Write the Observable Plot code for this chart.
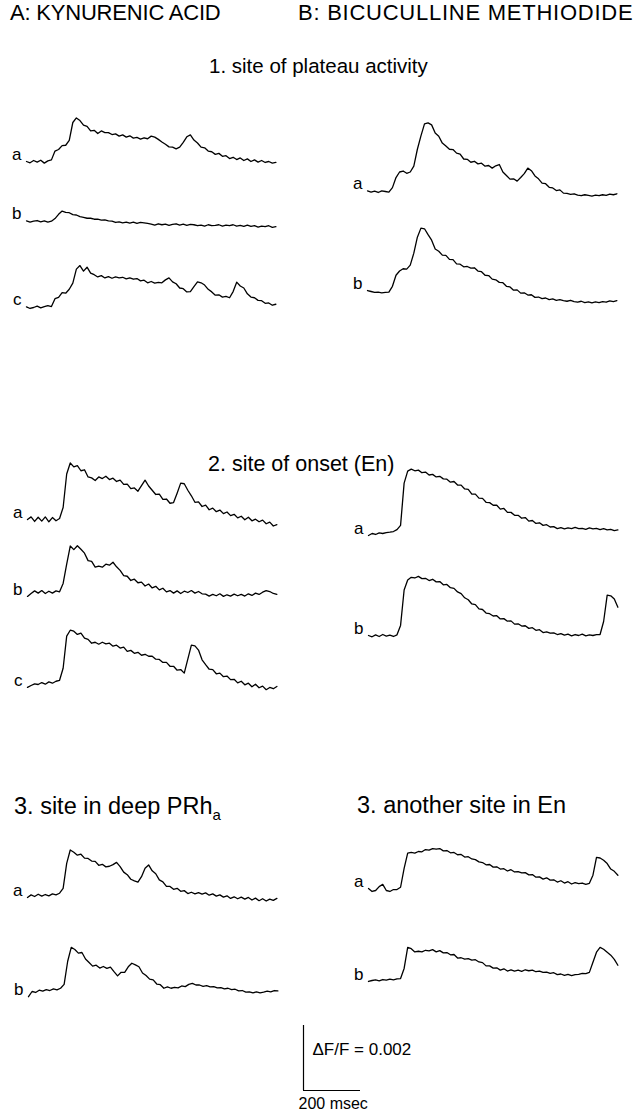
<!DOCTYPE html>
<html>
<head>
<meta charset="utf-8">
<script src="https://cdn.jsdelivr.net/npm/d3@7"></script>
<script src="https://cdn.jsdelivr.net/npm/@observablehq/plot@0.6"></script>
<style>
  html, body { margin: 0; padding: 0; background: #fff; }
  #fig { position: relative; width: 634px; height: 1115px; overflow: hidden; background: #fff;
         font-family: "Liberation Sans", Arial, sans-serif; color: #000; }
  .t { position: absolute; white-space: nowrap; line-height: 1; }
  .p { position: absolute; }
</style>
</head>
<body>
<div id="fig"></div>
<script>
// ---------- DATA (ΔF/F in units of 1e-4; one sample every 12.5 ms) ----------
const SAMPLE_MS = 12.5;

const A1a = [0,-0.4,0.3,-0.2,0.4,-0.5,0.2,0.5,3.2,3.7,4.9,5.0,6.5,12.0,13.4,12.6,11.2,10.8,9.4,9.6,8.6,9.4,8.9,8.9,8.3,8.5,7.8,8.2,7.5,7.9,7.2,7.4,6.9,7.3,7.0,7.8,7.5,6.8,6.0,5.3,4.5,4.4,3.9,4.4,5.9,7.6,8.2,6.6,5.7,4.4,4.2,3.2,3.0,2.2,2.5,1.6,1.8,0.9,1.3,0.6,1.1,0.3,0.8,0.0,0.5,-0.2,0.3,-0.3,0.0,-0.5,-0.3];
const A1b = [0.2,-0.2,0.1,0.3,-0.1,0.2,-0.2,0.1,0.9,2.2,3.2,2.8,2.7,2.1,2.0,1.5,1.3,1.0,1.0,0.7,0.7,0.4,0.5,0.2,0.1,-0.3,-0.1,-0.4,-0.2,-0.5,-0.2,-0.6,-0.3,-0.4,-0.6,-0.8,-1.1,-0.7,-1.0,-0.8,-1.2,-0.9,-0.7,-1.1,-0.8,-1.2,-0.9,-1.0,-1.3,-1.1,-1.4,-1.0,-1.3,-1.2,-1.0,-1.4,-1.1,-1.3,-1.0,-1.4,-1.2,-1.5,-1.1,-1.5,-1.3,-1.7,-1.4,-1.6,-1.3,-1.8,-1.6];
const A1c = [0.2,-0.3,0.0,0.4,-0.1,0.3,0.6,0.3,2.7,3.1,4.6,4.4,5.6,7.5,11.8,12.9,11.2,12.4,10.6,10.1,9.4,9.8,9.1,9.5,9.0,9.4,9.1,9.3,8.8,9.1,8.7,8.9,8.2,8.4,7.6,8.0,7.5,7.7,7.6,8.5,9.1,7.9,7.3,6.0,5.8,4.8,4.9,6.4,7.9,7.6,6.9,5.6,4.8,3.8,3.9,3.2,3.4,3.0,4.9,7.8,6.6,6.0,4.2,3.2,3.0,2.2,2.1,1.3,1.4,0.7,1.0];
const B1a = [0.2,-0.2,0.1,-0.3,0.2,0.0,-0.2,1.2,4.3,6.0,6.3,5.6,6.0,7.8,13.0,17.1,20.8,21.1,20.5,18.0,17.0,14.9,14.0,13.0,12.9,11.8,11.5,10.0,9.9,9.0,9.3,8.5,8.7,7.8,8.0,7.2,7.9,8.3,6.0,4.9,3.8,3.9,3.2,4.3,5.5,7.2,6.4,4.8,3.9,2.6,2.4,1.3,1.1,0.3,0.5,-0.5,-0.6,-0.9,-0.7,-1.1,-1.3,-1.0,-1.2,-1.4,-1.1,-1.3,-1.0,-1.2,-0.8,-1.0,-0.7];
const B1b = [0.3,0.0,-0.3,-0.2,-0.4,-0.3,-0.2,1.6,5.0,6.3,7.0,6.9,8.1,11.8,16.7,19.5,19.3,17.5,15.8,13.1,12.4,11.2,11.1,9.9,9.8,8.5,8.4,7.6,7.7,7.2,7.3,6.3,6.1,5.0,4.9,3.8,3.6,2.8,2.7,1.6,1.4,0.4,0.5,-0.5,-0.4,-1.1,-1.0,-1.8,-1.7,-2.2,-2.0,-2.5,-2.3,-2.7,-2.5,-2.8,-3.0,-2.7,-3.1,-3.3,-3.0,-3.4,-3.2,-3.5,-3.2,-3.4,-3.1,-3.3,-2.9,-3.1,-2.8];
const A2a = [0,0.8,-0.6,0.7,-0.5,0.8,-0.7,0.6,-0.4,0.3,3.7,14.0,17.4,16.2,16.6,15.0,15.3,13.1,12.8,12.0,13.1,12.6,13.3,12.3,12.7,11.7,12.1,10.8,10.9,9.5,9.7,8.7,10.4,12.1,10.3,9.0,7.7,7.8,6.2,6.3,5.0,5.2,8.1,11.2,11.0,9.0,7.3,5.3,5.4,4.0,4.4,3.0,3.5,2.4,2.9,1.8,2.3,1.2,1.6,0.5,1.0,-0.1,0.7,-0.4,0.1,-0.7,-0.2,-1.3,-0.8,-2.0,-1.6];
const A2b = [-1.2,-0.3,0.5,-0.2,0.6,-0.3,0.4,-0.2,0.5,0.2,2.8,8.7,14.3,13.2,14.4,13.3,12.1,9.8,9.6,7.8,8.1,7.8,8.7,8.4,9.3,7.9,6.8,5.2,5.0,3.7,4.1,3.0,3.2,2.0,2.6,1.4,1.9,0.8,1.3,0.2,0.6,-0.2,0.5,-0.3,0.4,0.0,0.6,-0.2,0.3,-0.4,-0.5,-1.1,-0.6,-1.0,-0.4,-1.2,-0.7,-1.1,-0.5,-1.0,-0.6,-1.1,-0.4,-0.9,-0.2,-0.6,0.1,0.6,0.3,-0.3,-0.6];
const A2c = [-0.9,-0.3,0.2,0.0,0.6,0.1,0.8,0.4,1.0,1.3,5.0,14.9,16.7,16.4,15.4,15.8,14.3,13.9,12.7,13.0,12.4,13.0,12.5,12.7,11.8,12.1,11.2,11.5,10.2,10.5,9.6,9.9,9.0,9.3,8.7,8.7,7.8,7.7,6.8,6.8,5.6,5.6,4.4,4.6,3.5,7.8,12.1,11.9,10.6,7.6,6.1,4.7,4.6,3.3,3.5,2.4,2.6,1.5,1.6,0.5,1.0,-0.1,0.4,-0.7,0.1,-1.0,-0.5,-1.6,-0.9,-1.3,-0.6];
const B2a = [-0.6,0.0,-0.3,0.2,0.0,0.3,0.4,0.6,1.2,2.5,15.5,19.2,19.8,19.3,19.5,18.7,18.9,18.0,18.2,17.4,17.6,16.8,16.7,15.8,16.0,14.9,14.9,13.7,13.6,12.1,12.1,10.9,10.8,9.6,9.5,8.7,8.7,7.5,7.7,6.5,6.5,5.6,5.6,4.7,4.9,3.8,4.0,3.1,3.3,2.5,2.7,2.0,2.1,1.5,1.8,1.4,1.7,1.5,1.9,1.5,1.6,1.3,1.7,1.4,1.6,1.2,1.5,1.1,1.3,0.9,1.1];
const B2b = [0.0,-0.4,0.2,-0.3,0.3,-0.2,0.1,-0.3,0.2,3.1,14.0,17.1,17.9,17.7,18.2,17.5,17.6,16.9,17.3,16.5,16.6,15.6,15.7,14.7,14.5,13.4,12.9,11.6,11.0,9.7,9.5,8.2,8.0,6.9,6.7,6.0,6.1,5.1,5.2,4.4,4.5,3.5,3.6,2.9,3.0,2.2,2.4,1.6,1.8,0.9,1.1,0.7,0.8,0.3,0.6,0.1,0.4,-0.1,0.3,0.0,0.4,-0.1,0.2,0.0,0.3,0.3,4.3,12.4,12.2,11.2,8.7];
const A3a = [-0.6,0.2,-0.3,0.4,-0.2,0.3,-0.1,0.5,0.2,0.7,2.2,9.9,14.0,13.3,12.4,12.7,11.5,11.4,10.6,10.5,9.3,9.6,8.8,9.0,9.5,10.2,8.9,7.2,6.4,5.0,4.5,4.1,5.8,8.4,9.4,7.6,6.7,4.8,4.2,2.8,2.8,1.9,2.2,1.3,1.5,0.6,1.0,0.5,0.9,0.4,0.8,0.1,0.5,-0.2,0.2,-0.5,-0.1,-0.9,-0.4,-1.0,-0.5,-1.1,-0.6,-1.4,-0.8,-1.6,-1.0,-1.7,-1.1,-1.5,-0.9];
const A3b = [-1.6,0.0,-0.3,0.4,0.1,0.6,0.3,0.8,0.5,1.0,2.2,9.3,13.6,12.9,11.8,12.0,10.0,8.9,7.8,8.1,7.2,7.7,7.1,7.5,6.1,4.8,5.9,5.9,7.6,8.7,8.2,7.6,5.7,4.9,3.8,3.6,2.3,2.1,1.0,1.4,1.0,1.3,1.1,1.7,1.5,2.2,2.5,2.0,2.0,1.6,1.8,1.4,1.5,1.1,1.2,0.8,1.0,0.6,0.7,0.2,0.3,-0.2,-0.1,-0.4,-0.1,-0.4,-0.2,0.1,-0.1,0.3,0.2];
const B3a = [0.6,-0.3,0.0,1.2,1.9,0.0,-0.3,0.3,0.3,1.0,6.8,11.5,11.7,11.5,12.0,11.9,12.6,12.4,12.9,12.7,12.9,12.2,12.3,11.6,11.7,11.0,11.1,10.3,10.4,9.7,9.5,8.8,8.6,7.9,8.0,7.2,7.3,6.6,6.7,6.0,6.4,5.7,5.8,5.4,5.5,4.8,4.9,4.1,4.2,3.5,3.9,3.2,3.3,2.6,3.0,2.3,2.7,2.0,2.4,2.1,2.3,1.9,2.2,4.7,10.2,10.0,9.3,8.3,6.6,5.9,4.7];
const B3b = [-0.3,0.0,0.2,-0.1,0.3,0.1,0.4,0.2,0.5,0.6,3.7,10.2,9.8,8.8,9.0,8.8,9.3,9.1,9.5,8.8,9.2,8.5,8.6,7.9,8.0,6.9,7.0,6.6,6.7,6.3,6.4,5.7,5.5,4.5,4.5,3.8,3.9,3.2,3.6,2.9,3.3,2.9,3.2,2.8,3.3,3.0,3.2,2.7,2.9,2.5,2.6,2.2,2.4,1.8,2.0,1.6,1.9,1.5,1.8,1.9,2.2,2.1,2.5,5.6,8.7,10.2,9.6,8.7,7.8,6.5,4.7];

// scale bar values
const scaleBarMs = 200;       // 200 msec
const scaleBarDFF = 20;       // 20 x 1e-4 = 0.002

// text
const headers = ["A: KYNURENIC ACID", "B: BICUCULLINE METHIODIDE"];
const sectionTitles = ["1. site of plateau activity", "2. site of onset (En)", "3. site in deep PRh", "3. another site in En"];
const scaleLabels = ["\u0394F/F = 0.002", "200 msec"];

// ---------- LAYOUT (page placement of each trace panel) ----------
const traces = [
  {v: A1a, label: "a", left: 26,  base: 161},
  {v: A1b, label: "b", left: 26,  base: 221},
  {v: A1c, label: "c", left: 26,  base: 307},
  {v: B1a, label: "a", left: 367, base: 191},
  {v: B1b, label: "b", left: 367, base: 291},
  {v: A2a, label: "a", left: 27,  base: 519},
  {v: A2b, label: "b", left: 27,  base: 592},
  {v: A2c, label: "c", left: 27,  base: 684},
  {v: B2a, label: "a", left: 368, base: 533},
  {v: B2b, label: "b", left: 368, base: 635},
  {v: A3a, label: "a", left: 27,  base: 895},
  {v: A3b, label: "b", left: 28,  base: 991},
  {v: B3a, label: "a", left: 368, base: 890},
  {v: B3b, label: "b", left: 368, base: 980}
];

const PX_PER_MS = 57 / 200;
const PX_PER_UNIT = 65 / 20;
const ML = 24;              // left margin inside each panel svg
const ZERO_Y = 82;          // y pixel of zero inside each panel svg
const PW = 280, PH = 106;
const FONT = "'Liberation Sans', Arial, sans-serif";

const fig = document.getElementById("fig");

function scales() {
  return {
    x: {domain: [0, 875], range: [ML, ML + 875 * PX_PER_MS], axis: null},
    y: {domain: [-6, 24], range: [ZERO_Y + 6 * PX_PER_UNIT, ZERO_Y - 24 * PX_PER_UNIT], axis: null}
  };
}

for (const tr of traces) {
  const data = tr.v.map((v, i) => ({t: i * SAMPLE_MS, v}));
  const s = scales();
  const svg = Plot.plot({
    width: PW, height: PH, margin: 0,
    x: s.x, y: s.y,
    style: {background: "transparent", overflow: "visible", fontFamily: FONT},
    marks: [
      Plot.line(data, {x: "t", y: "v", stroke: "#000", strokeWidth: 1.3, strokeLinejoin: "round"}),
      Plot.text(data.slice(0, 1), {x: "t", y: "v", text: () => tr.label, textAnchor: "end",
        dx: -5, dy: -7, fontSize: 17, fill: "#000"})
    ]
  });
  svg.classList.add("p");
  svg.style.left = (tr.left - ML) + "px";
  svg.style.top = (tr.base - ZERO_Y) + "px";
  fig.appendChild(svg);
}

// scale bar
{
  const s = scales();
  const svg = Plot.plot({
    width: PW, height: PH, margin: 0,
    x: s.x, y: s.y,
    style: {background: "transparent", overflow: "visible", fontFamily: FONT},
    marks: [
      Plot.ruleX([0], {y1: 0, y2: scaleBarDFF, stroke: "#000", strokeWidth: 1.2}),
      Plot.ruleY([0], {x1: 0, x2: scaleBarMs, stroke: "#000", strokeWidth: 1.2}),
      Plot.text([scaleLabels[0]], {x: 0, y: scaleBarDFF, text: d => d, textAnchor: "start", dx: 9, dy: 24, fontSize: 17, fill: "#000"}),
      Plot.text([scaleLabels[1]], {x: 0, y: 0, text: d => d, textAnchor: "start", dx: -5, dy: 13, fontSize: 16, fill: "#000"})
    ]
  });
  svg.classList.add("p");
  svg.style.left = (303 - ML) + "px";
  svg.style.top = (1090 - ZERO_Y) + "px";
  fig.appendChild(svg);
}

// text helpers (baseline placement)
function addText(html, x, baseline, size, spacing) {
  const d = document.createElement("div");
  d.className = "t";
  d.style.fontSize = size + "px";
  d.style.left = x + "px";
  d.style.top = (baseline - 0.8465 * size) + "px";
  if (spacing) d.style.letterSpacing = spacing + "px";
  d.innerHTML = html;
  fig.appendChild(d);
  return d;
}
addText(headers[0], 10, 21, 22, -0.2);
addText(headers[1], 298, 21, 22, 0.75);
addText(sectionTitles[0], 209, 73, 20.5);
addText(sectionTitles[1], 208, 472, 21.5);
addText(sectionTitles[2] + '<span style="font-size:15px;position:relative;top:6px">a</span>', 14, 815, 23.5);
addText(sectionTitles[3], 357, 814, 23.5);
</script>
</body>
</html>
